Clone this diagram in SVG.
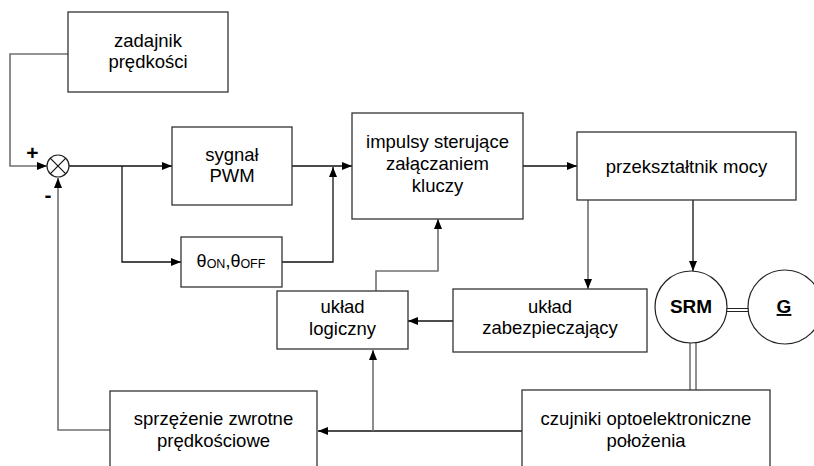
<svg xmlns="http://www.w3.org/2000/svg" width="814" height="466" viewBox="0 0 814 466">
  <defs>
    <marker id="arr" viewBox="0 0 10 8" refX="10" refY="4" markerWidth="10" markerHeight="8" markerUnits="userSpaceOnUse" orient="auto">
      <path d="M0,0 L10,4 L0,8 z" fill="#000"/>
    </marker>
  </defs>
  <style>
    .box { fill: #fff; stroke: #333; stroke-width: 1.3; }
    .circ { fill: #fff; stroke: #222; stroke-width: 1.2; }
    .ln { fill: none; stroke: #111; stroke-width: 1.3; }
    .lg { fill: none; stroke: #707070; stroke-width: 1.6; }
    .dbl { fill: none; stroke: #222; stroke-width: 1; }
    text { font-family: "Liberation Sans", Arial, sans-serif; font-size: 18.5px; fill: #000; text-anchor: middle; }
    .b { font-weight: bold; font-size: 19px; }
    .sign { font-weight: bold; font-size: 21px; }
  </style>

  <rect width="814" height="466" fill="#fff"/>

  <!-- connectors -->
  <g id="connectors">
    <!-- speed setpoint to summing point -->
    <path class="lg" d="M68,54 H10 V166 H47" marker-end="url(#arr)"/>
    <!-- error signal to PWM -->
    <path class="ln" d="M69,166 H172" marker-end="url(#arr)"/>
    <!-- branch to theta block -->
    <path class="ln" d="M122,166 V262 H181" marker-end="url(#arr)"/>
    <!-- PWM to switching pulses -->
    <path class="ln" d="M292,166 H352" marker-end="url(#arr)"/>
    <!-- theta to switching pulses -->
    <path class="ln" d="M282,262 H333 V167" marker-end="url(#arr)"/>
    <!-- switching pulses to converter -->
    <path class="ln" d="M523,166 H577" marker-end="url(#arr)"/>
    <!-- converter to protection -->
    <path class="lg" d="M588,200 V289" marker-end="url(#arr)"/>
    <!-- converter to motor -->
    <path class="ln" d="M693,200 V271" marker-end="url(#arr)"/>
    <!-- protection to logic -->
    <path class="ln" d="M453,321 H408" marker-end="url(#arr)"/>
    <!-- logic to switching pulses -->
    <path class="lg" d="M376,291 V271 H438 V219" marker-end="url(#arr)"/>
    <!-- sensors to speed feedback -->
    <path class="ln" d="M522,431 H318" marker-end="url(#arr)"/>
    <!-- sensors to logic -->
    <path class="lg" d="M373,431 V350" marker-end="url(#arr)"/>
    <!-- speed feedback to summing point -->
    <path class="lg" d="M110,430 H58 V178" marker-end="url(#arr)"/>
    <!-- mechanical couplings -->
    <path class="dbl" d="M726,308.5 H749 M726,311.5 H749"/>
    <path class="dbl" d="M690,343 V390 M696,343 V390"/>
  </g>

  <!-- summing point -->
  <g id="sum">
    <circle class="circ" cx="58" cy="166" r="11"/>
    <path class="ln" d="M50.2,158.2 L65.8,173.8 M65.8,158.2 L50.2,173.8" style="stroke-width:1.2"/>
    <text class="sign" x="32.5" y="160">+</text>
    <text class="sign" x="48" y="202">-</text>
  </g>

  <g id="zadajnik">
    <rect class="box" x="68" y="12" width="160" height="80"/>
    <text x="148" y="47">zadajnik</text>
    <text x="148" y="68">prędkości</text>
  </g>

  <g id="pwm">
    <rect class="box" x="172" y="127" width="120" height="78"/>
    <text x="232" y="161">sygnał</text>
    <text x="232" y="182">PWM</text>
  </g>

  <g id="theta">
    <rect class="box" x="181" y="237" width="101" height="50"/>
    <text x="231" y="267" style="font-size:18px">θ<tspan style="font-size:12.5px" dy="1">ON</tspan><tspan dy="-1">,θ</tspan><tspan style="font-size:12.5px" dy="1">OFF</tspan></text>
  </g>

  <g id="impulsy">
    <rect class="box" x="352" y="113" width="171" height="106"/>
    <text x="437.5" y="148">impulsy sterujące</text>
    <text x="437.5" y="170">załączaniem</text>
    <text x="437.5" y="192">kluczy</text>
  </g>

  <g id="przeksztaltnik">
    <rect class="box" x="577" y="132" width="219" height="68"/>
    <text x="686.5" y="173">przekształtnik mocy</text>
  </g>

  <g id="zabezpieczajacy">
    <rect class="box" x="453" y="289" width="194" height="63"/>
    <text x="550" y="313">układ</text>
    <text x="550" y="334">zabezpieczający</text>
  </g>

  <g id="logiczny">
    <rect class="box" x="277" y="291" width="131" height="58"/>
    <text x="342.5" y="313">układ</text>
    <text x="342.5" y="335">logiczny</text>
  </g>

  <g id="srm">
    <circle class="circ" cx="691" cy="307" r="36"/>
    <text class="b" x="691" y="313">SRM</text>
  </g>

  <g id="g">
    <circle class="circ" cx="785" cy="307" r="37"/>
    <text class="b" x="784" y="313" text-decoration="underline">G</text>
  </g>

  <g id="sprzezenie">
    <rect class="box" x="110" y="391" width="207" height="80"/>
    <text x="213.5" y="425">sprzężenie zwrotne</text>
    <text x="213.5" y="447">prędkościowe</text>
  </g>

  <g id="czujniki">
    <rect class="box" x="522" y="390" width="248" height="80"/>
    <text x="646" y="425">czujniki optoelektroniczne</text>
    <text x="646" y="447">położenia</text>
  </g>
</svg>
